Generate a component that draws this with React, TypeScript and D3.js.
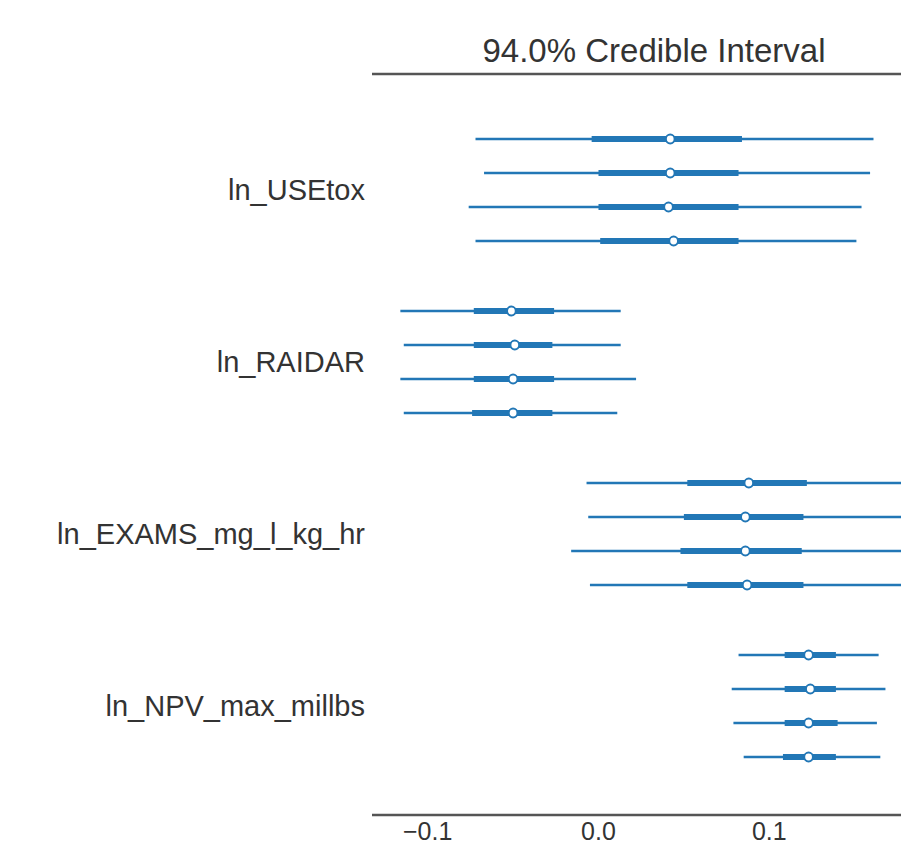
import React from "react";
import * as d3 from "d3";

// variable names, top to bottom
const variables = ["ln_USEtox", "ln_RAIDAR", "ln_EXAMS_mg_l_kg_hr", "ln_NPV_max_millbs"];

// per chain: [hdi low, iqr low, median, iqr high, hdi high]
const usetox = [
  [-0.072, -0.004, 0.042, 0.084, 0.161],
  [-0.067, 0.0, 0.042, 0.082, 0.159],
  [-0.076, 0.0, 0.041, 0.082, 0.154],
  [-0.072, 0.001, 0.044, 0.082, 0.151],
];
const raidar = [
  [-0.116, -0.073, -0.051, -0.026, 0.013],
  [-0.114, -0.073, -0.049, -0.027, 0.013],
  [-0.116, -0.073, -0.05, -0.026, 0.022],
  [-0.114, -0.074, -0.05, -0.027, 0.011],
];
const exams = [
  [-0.007, 0.052, 0.088, 0.122, 0.19],
  [-0.006, 0.05, 0.086, 0.12, 0.188],
  [-0.016, 0.048, 0.086, 0.119, 0.195],
  [-0.005, 0.052, 0.087, 0.12, 0.186],
];
const npv = [
  [0.082, 0.109, 0.123, 0.139, 0.164],
  [0.078, 0.109, 0.124, 0.139, 0.168],
  [0.079, 0.109, 0.123, 0.14, 0.163],
  [0.085, 0.108, 0.123, 0.139, 0.165],
];
const chainsByVar = [usetox, raidar, exams, npv];
const tickValues = [-0.1, 0.0, 0.1];
const title = "94.0% Credible Interval";

const blue = "#2277b6";
const textColor = "#333333";
const lineColor = "#555555";
const font = "'Liberation Sans', Arial, sans-serif";

export default function App() {
  const width = 901;
  const height = 847;
  const left = 372;
  const right = 936;
  const top = 74;
  const bottom = 815;

  const x = d3.scaleLinear().domain([-0.1326, 0.1976]).range([left, right]);
  const yGroup = d3.scaleLinear().domain([0, 3]).range([190, 706]);
  const yChain = d3.scaleLinear().domain([0, 3]).range([-51, 51]);
  const fmt = d3.format(".1f");

  return (
    <div style={{ position: "absolute", left: 0, top: 0 }}>
      <svg width={width} height={height} style={{ display: "block", background: "#fff" }}>
        <defs>
          <clipPath id="plot">
            <rect x={left} y={top} width={right - left} height={bottom - top} />
          </clipPath>
        </defs>
        <text x={(left + right) / 2} y={62} textAnchor="middle" fontFamily={font} fontSize={33} fill={textColor}>
          {title}
        </text>
        <line x1={left} x2={right} y1={top} y2={top} stroke={lineColor} strokeWidth={2.5} />
        <line x1={left} x2={right} y1={bottom} y2={bottom} stroke={lineColor} strokeWidth={2.5} />

        {tickValues.map((t) => (
          <text key={t} x={x(t)} y={840} textAnchor="middle" fontFamily={font} fontSize={25} fill={textColor}>
            {fmt(t)}
          </text>
        ))}

        {variables.map((v, i) => (
          <text key={v} x={365} y={yGroup(i) + 10} textAnchor="end" fontFamily={font} fontSize={29} fill={textColor}>
            {v}
          </text>
        ))}

        <g clipPath="url(#plot)">
          {chainsByVar.map((chains, i) =>
            chains.map((c, j) => {
              const y = yGroup(i) + yChain(j);
              return (
                <g key={`${i}-${j}`}>
                  <line x1={x(c[0])} x2={x(c[4])} y1={y} y2={y} stroke={blue} strokeWidth={2.6} />
                  <line x1={x(c[1])} x2={x(c[3])} y1={y} y2={y} stroke={blue} strokeWidth={6} />
                  <circle cx={x(c[2])} cy={y} r={4.4} fill="#fff" stroke={blue} strokeWidth={2} />
                </g>
              );
            })
          )}
        </g>
      </svg>
    </div>
  );
}
